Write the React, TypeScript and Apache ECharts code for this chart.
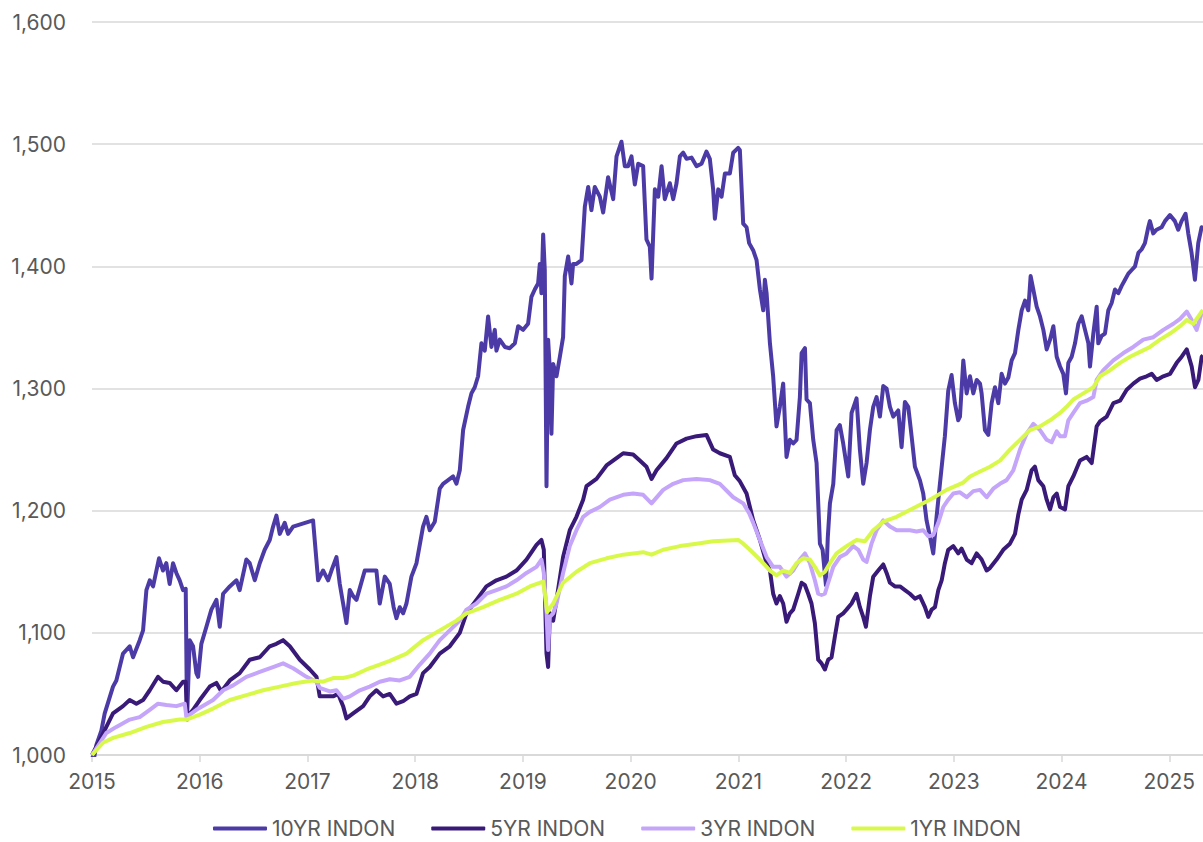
import React, { useEffect, useRef } from "react";
import * as echarts from "echarts";

// Decimal-year x values, index levels (base 1,000 at start of 2015)
const seriesNames = ["10YR INDON", "5YR INDON", "3YR INDON", "1YR INDON"];
const seriesColors = ["#4C3BA6", "#3A1A78", "#C4A5FA", "#D9F94A"];
const yearTicks = [2015, 2016, 2017, 2018, 2019, 2020, 2021, 2022, 2023, 2024, 2025];
const xMin = 2015;
const xMax = 2025.313;

const tenYr: [number, number][] = [
  [2015.0, 1000], [2015.02, 998], [2015.04, 1008], [2015.087, 1020], [2015.118, 1034], [2015.195, 1056],
  [2015.226, 1061], [2015.288, 1083], [2015.35, 1089], [2015.381, 1080], [2015.443, 1094], [2015.474, 1102],
  [2015.505, 1135], [2015.536, 1143], [2015.567, 1138], [2015.622, 1161], [2015.659, 1151], [2015.69, 1157],
  [2015.721, 1140], [2015.752, 1157], [2015.783, 1149], [2015.814, 1143], [2015.845, 1135], [2015.87, 1136],
  [2015.882, 1029], [2015.907, 1094], [2015.938, 1089], [2015.969, 1067], [2015.985, 1064], [2016.015, 1091],
  [2016.062, 1105], [2016.108, 1119], [2016.155, 1127], [2016.186, 1105], [2016.217, 1132], [2016.279, 1138],
  [2016.341, 1143], [2016.371, 1135], [2016.433, 1160], [2016.464, 1157], [2016.511, 1143], [2016.557, 1157],
  [2016.603, 1168], [2016.65, 1176], [2016.681, 1187], [2016.712, 1196], [2016.743, 1181], [2016.789, 1190],
  [2016.82, 1181], [2016.867, 1187], [2017.052, 1192], [2017.099, 1143], [2017.145, 1151], [2017.192, 1143],
  [2017.223, 1151], [2017.269, 1162], [2017.3, 1140], [2017.331, 1124], [2017.362, 1108], [2017.393, 1135],
  [2017.424, 1130], [2017.455, 1127], [2017.532, 1151], [2017.578, 1151], [2017.64, 1151], [2017.671, 1124],
  [2017.718, 1146], [2017.764, 1140], [2017.8, 1121], [2017.826, 1112], [2017.857, 1121], [2017.888, 1116],
  [2017.919, 1124], [2017.965, 1146], [2018.012, 1157], [2018.073, 1187], [2018.104, 1195], [2018.135, 1184],
  [2018.182, 1191], [2018.228, 1218], [2018.259, 1222], [2018.306, 1225], [2018.352, 1228], [2018.383, 1222],
  [2018.414, 1233], [2018.445, 1266], [2018.491, 1285], [2018.522, 1296], [2018.553, 1301], [2018.584, 1310],
  [2018.615, 1337], [2018.646, 1331], [2018.677, 1359], [2018.708, 1334], [2018.739, 1348], [2018.754, 1331],
  [2018.785, 1340], [2018.832, 1334], [2018.878, 1333], [2018.925, 1337], [2018.956, 1351], [2019.002, 1348],
  [2019.048, 1353], [2019.079, 1375], [2019.11, 1381], [2019.141, 1386], [2019.157, 1402], [2019.172, 1378],
  [2019.188, 1426], [2019.203, 1397], [2019.219, 1220], [2019.234, 1340], [2019.25, 1315], [2019.265, 1263],
  [2019.281, 1320], [2019.312, 1310], [2019.343, 1326], [2019.373, 1342], [2019.389, 1392], [2019.42, 1408],
  [2019.451, 1386], [2019.466, 1402], [2019.497, 1402], [2019.544, 1405], [2019.575, 1449], [2019.606, 1465],
  [2019.636, 1446], [2019.667, 1465], [2019.714, 1457], [2019.745, 1444], [2019.791, 1473], [2019.838, 1455],
  [2019.869, 1490], [2019.915, 1502], [2019.946, 1482], [2019.977, 1482], [2020.008, 1490], [2020.039, 1467],
  [2020.07, 1484], [2020.116, 1482], [2020.147, 1422], [2020.178, 1416], [2020.194, 1390], [2020.225, 1463],
  [2020.256, 1457], [2020.287, 1482], [2020.317, 1455], [2020.364, 1468], [2020.395, 1455], [2020.426, 1468],
  [2020.457, 1490], [2020.488, 1493], [2020.519, 1488], [2020.565, 1489], [2020.612, 1482], [2020.658, 1484],
  [2020.704, 1494], [2020.735, 1488], [2020.766, 1463], [2020.782, 1439], [2020.813, 1463], [2020.844, 1457],
  [2020.875, 1476], [2020.921, 1476], [2020.952, 1493], [2020.998, 1497], [2021.014, 1495], [2021.045, 1435],
  [2021.076, 1432], [2021.1, 1419], [2021.138, 1413], [2021.169, 1405], [2021.2, 1381], [2021.231, 1364],
  [2021.246, 1389], [2021.262, 1378], [2021.293, 1337], [2021.323, 1310], [2021.354, 1269], [2021.385, 1285],
  [2021.416, 1304], [2021.447, 1244], [2021.478, 1258], [2021.509, 1255], [2021.54, 1258], [2021.571, 1293],
  [2021.587, 1329], [2021.618, 1333], [2021.633, 1291], [2021.664, 1288], [2021.695, 1258], [2021.726, 1239],
  [2021.757, 1173], [2021.782, 1168], [2021.813, 1139], [2021.83, 1178], [2021.85, 1206], [2021.881, 1222],
  [2021.912, 1266], [2021.942, 1270], [2021.973, 1255], [2022.02, 1228], [2022.051, 1280], [2022.097, 1292],
  [2022.128, 1250], [2022.159, 1222], [2022.19, 1239], [2022.221, 1266], [2022.252, 1285], [2022.283, 1293],
  [2022.314, 1277], [2022.345, 1302], [2022.376, 1300], [2022.407, 1285], [2022.438, 1277], [2022.484, 1282],
  [2022.515, 1252], [2022.546, 1289], [2022.577, 1285], [2022.608, 1261], [2022.639, 1236], [2022.685, 1225],
  [2022.716, 1214], [2022.747, 1192], [2022.778, 1179], [2022.809, 1165], [2022.84, 1195], [2022.871, 1222],
  [2022.917, 1261], [2022.948, 1298], [2022.979, 1311], [2023.01, 1288], [2023.041, 1274], [2023.057, 1277],
  [2023.088, 1323], [2023.119, 1296], [2023.15, 1310], [2023.181, 1296], [2023.212, 1307], [2023.243, 1304],
  [2023.258, 1296], [2023.289, 1266], [2023.32, 1262], [2023.351, 1288], [2023.382, 1301], [2023.413, 1288],
  [2023.444, 1312], [2023.475, 1304], [2023.506, 1309], [2023.537, 1323], [2023.568, 1329], [2023.599, 1348],
  [2023.63, 1364], [2023.661, 1372], [2023.691, 1364], [2023.713, 1392], [2023.738, 1381], [2023.769, 1367],
  [2023.8, 1359], [2023.831, 1348], [2023.862, 1332], [2023.893, 1340], [2023.924, 1351], [2023.955, 1326],
  [2023.986, 1318], [2024.016, 1312], [2024.041, 1296], [2024.063, 1321], [2024.094, 1326], [2024.125, 1337],
  [2024.156, 1353], [2024.187, 1359], [2024.218, 1348], [2024.249, 1337], [2024.264, 1318], [2024.295, 1345],
  [2024.326, 1367], [2024.341, 1337], [2024.372, 1343], [2024.403, 1345], [2024.434, 1364], [2024.465, 1370],
  [2024.496, 1381], [2024.527, 1378], [2024.558, 1384], [2024.589, 1389], [2024.62, 1394], [2024.651, 1397],
  [2024.682, 1400], [2024.713, 1411], [2024.744, 1414], [2024.774, 1419], [2024.805, 1432], [2024.82, 1437],
  [2024.851, 1427], [2024.882, 1430], [2024.929, 1432], [2024.96, 1437], [2025.006, 1442], [2025.052, 1437],
  [2025.083, 1430], [2025.114, 1437], [2025.151, 1443], [2025.176, 1427], [2025.207, 1411], [2025.238, 1389],
  [2025.269, 1419], [2025.3, 1432], [2025.313, 1430],
];

const fiveYr: [number, number][] = [
  [2015.0, 1000], [2015.071, 1012], [2015.133, 1023], [2015.195, 1034], [2015.288, 1040], [2015.35, 1045],
  [2015.412, 1042], [2015.474, 1045], [2015.536, 1053], [2015.613, 1064], [2015.659, 1060], [2015.721, 1059],
  [2015.783, 1053], [2015.845, 1060], [2015.87, 1060], [2015.882, 1031], [2015.938, 1037], [2016.0, 1045],
  [2016.093, 1056], [2016.155, 1059], [2016.201, 1052], [2016.279, 1061], [2016.371, 1067], [2016.464, 1078],
  [2016.557, 1080], [2016.65, 1089], [2016.712, 1091], [2016.774, 1094], [2016.836, 1089], [2016.929, 1078],
  [2017.022, 1070], [2017.084, 1064], [2017.114, 1048], [2017.176, 1048], [2017.238, 1048], [2017.285, 1050],
  [2017.331, 1040], [2017.362, 1030], [2017.424, 1034], [2017.517, 1040], [2017.578, 1048], [2017.64, 1053],
  [2017.702, 1048], [2017.764, 1050], [2017.826, 1042], [2017.888, 1044], [2017.95, 1048], [2018.012, 1050],
  [2018.073, 1067], [2018.135, 1072], [2018.228, 1083], [2018.321, 1089], [2018.414, 1100], [2018.476, 1116],
  [2018.569, 1127], [2018.661, 1138], [2018.754, 1143], [2018.847, 1146], [2018.94, 1151], [2019.033, 1160],
  [2019.126, 1172], [2019.172, 1176], [2019.194, 1168], [2019.219, 1083], [2019.234, 1072], [2019.25, 1116],
  [2019.281, 1110], [2019.312, 1127], [2019.373, 1162], [2019.435, 1184], [2019.497, 1195], [2019.559, 1209],
  [2019.59, 1220], [2019.683, 1226], [2019.776, 1237], [2019.869, 1243], [2019.931, 1247], [2020.023, 1246],
  [2020.085, 1241], [2020.147, 1236], [2020.194, 1226], [2020.24, 1233], [2020.333, 1243], [2020.426, 1255],
  [2020.519, 1259], [2020.612, 1261], [2020.704, 1262], [2020.766, 1250], [2020.828, 1247], [2020.921, 1244],
  [2020.967, 1229], [2021.014, 1224], [2021.076, 1214], [2021.138, 1192], [2021.2, 1176], [2021.262, 1157],
  [2021.293, 1151], [2021.323, 1132], [2021.354, 1124], [2021.385, 1130], [2021.416, 1124], [2021.447, 1109],
  [2021.478, 1116], [2021.509, 1119], [2021.556, 1132], [2021.587, 1141], [2021.618, 1139], [2021.648, 1132],
  [2021.679, 1124], [2021.71, 1108], [2021.741, 1078], [2021.772, 1075], [2021.803, 1070], [2021.834, 1078],
  [2021.865, 1080], [2021.896, 1097], [2021.927, 1113], [2021.973, 1116], [2022.004, 1119], [2022.051, 1124],
  [2022.097, 1132], [2022.128, 1121], [2022.159, 1113], [2022.184, 1105], [2022.221, 1130], [2022.252, 1146],
  [2022.298, 1151], [2022.345, 1156], [2022.376, 1149], [2022.407, 1141], [2022.453, 1138], [2022.5, 1138],
  [2022.546, 1135], [2022.592, 1132], [2022.639, 1128], [2022.685, 1130], [2022.732, 1121], [2022.763, 1113],
  [2022.794, 1119], [2022.825, 1121], [2022.856, 1135], [2022.887, 1143], [2022.917, 1157], [2022.948, 1168],
  [2022.995, 1171], [2023.041, 1165], [2023.072, 1169], [2023.119, 1160], [2023.165, 1157], [2023.212, 1165],
  [2023.258, 1160], [2023.304, 1151], [2023.335, 1153], [2023.397, 1160], [2023.459, 1168], [2023.521, 1173],
  [2023.568, 1181], [2023.599, 1197], [2023.63, 1209], [2023.676, 1217], [2023.722, 1233], [2023.753, 1236],
  [2023.784, 1225], [2023.831, 1220], [2023.862, 1209], [2023.893, 1201], [2023.924, 1211], [2023.955, 1214],
  [2023.986, 1203], [2024.032, 1201], [2024.063, 1220], [2024.109, 1228], [2024.171, 1241], [2024.233, 1244],
  [2024.28, 1239], [2024.326, 1269], [2024.357, 1273], [2024.419, 1277], [2024.481, 1288], [2024.543, 1290],
  [2024.605, 1299], [2024.666, 1304], [2024.728, 1308], [2024.79, 1310], [2024.837, 1312], [2024.883, 1307],
  [2024.945, 1310], [2025.007, 1312], [2025.069, 1321], [2025.115, 1326], [2025.162, 1332], [2025.208, 1318],
  [2025.239, 1301], [2025.27, 1307], [2025.301, 1326], [2025.313, 1327],
];

const threeYr: [number, number][] = [
  [2015.0, 1000], [2015.133, 1018], [2015.226, 1023], [2015.35, 1029], [2015.443, 1031], [2015.536, 1037],
  [2015.613, 1042], [2015.69, 1041], [2015.783, 1040], [2015.861, 1042], [2015.876, 1031], [2015.969, 1037],
  [2016.124, 1045], [2016.217, 1053], [2016.31, 1057], [2016.433, 1064], [2016.557, 1068], [2016.681, 1072],
  [2016.774, 1075], [2016.867, 1071], [2016.991, 1064], [2017.084, 1060], [2017.114, 1055], [2017.207, 1052],
  [2017.269, 1053], [2017.331, 1046], [2017.393, 1048], [2017.486, 1053], [2017.578, 1056], [2017.671, 1060],
  [2017.764, 1062], [2017.857, 1061], [2017.95, 1064], [2018.043, 1074], [2018.135, 1083], [2018.228, 1094],
  [2018.321, 1102], [2018.414, 1110], [2018.476, 1119], [2018.569, 1124], [2018.661, 1132], [2018.754, 1135],
  [2018.847, 1138], [2018.94, 1143], [2019.033, 1149], [2019.126, 1154], [2019.172, 1160], [2019.194, 1149],
  [2019.219, 1116], [2019.234, 1086], [2019.25, 1113], [2019.281, 1116], [2019.312, 1124], [2019.373, 1149],
  [2019.435, 1171], [2019.497, 1184], [2019.559, 1195], [2019.621, 1199], [2019.714, 1203], [2019.807, 1209],
  [2019.931, 1213], [2020.023, 1214], [2020.116, 1213], [2020.194, 1206], [2020.302, 1217], [2020.395, 1222],
  [2020.488, 1225], [2020.612, 1226], [2020.735, 1225], [2020.828, 1222], [2020.952, 1211], [2021.045, 1206],
  [2021.1, 1198], [2021.138, 1190], [2021.2, 1176], [2021.262, 1162], [2021.323, 1154], [2021.385, 1154],
  [2021.447, 1146], [2021.509, 1151], [2021.571, 1160], [2021.618, 1165], [2021.664, 1157], [2021.71, 1143],
  [2021.741, 1132], [2021.772, 1131], [2021.803, 1132], [2021.834, 1141], [2021.881, 1154], [2021.942, 1162],
  [2022.004, 1165], [2022.066, 1171], [2022.113, 1168], [2022.159, 1160], [2022.19, 1158], [2022.236, 1173],
  [2022.283, 1184], [2022.345, 1192], [2022.407, 1187], [2022.469, 1184], [2022.531, 1184], [2022.592, 1184],
  [2022.654, 1183], [2022.716, 1184], [2022.763, 1179], [2022.809, 1180], [2022.856, 1190], [2022.902, 1203],
  [2022.948, 1209], [2022.995, 1214], [2023.057, 1215], [2023.119, 1211], [2023.181, 1216], [2023.243, 1217],
  [2023.305, 1211], [2023.366, 1218], [2023.428, 1222], [2023.49, 1225], [2023.552, 1233], [2023.614, 1250],
  [2023.676, 1263], [2023.738, 1271], [2023.8, 1266], [2023.862, 1258], [2023.908, 1256], [2023.955, 1265],
  [2023.986, 1261], [2024.032, 1261], [2024.063, 1274], [2024.109, 1280], [2024.171, 1288], [2024.233, 1290],
  [2024.295, 1293], [2024.326, 1307], [2024.388, 1315], [2024.481, 1323], [2024.574, 1329], [2024.666, 1334],
  [2024.759, 1340], [2024.852, 1342], [2024.945, 1348], [2025.038, 1353], [2025.1, 1357], [2025.162, 1363],
  [2025.208, 1356], [2025.254, 1348], [2025.301, 1362], [2025.313, 1360],
];

const oneYr: [number, number][] = [
  [2015.0, 1000], [2015.102, 1010], [2015.195, 1014], [2015.35, 1018], [2015.505, 1023], [2015.659, 1027],
  [2015.814, 1029], [2015.876, 1029], [2016.0, 1033], [2016.124, 1038], [2016.279, 1045], [2016.433, 1049],
  [2016.588, 1053], [2016.743, 1056], [2016.898, 1059], [2017.052, 1061], [2017.145, 1060], [2017.238, 1063],
  [2017.331, 1063], [2017.424, 1065], [2017.548, 1070], [2017.671, 1074], [2017.764, 1077], [2017.919, 1083],
  [2018.073, 1094], [2018.228, 1102], [2018.383, 1110], [2018.476, 1116], [2018.63, 1121], [2018.785, 1127],
  [2018.94, 1132], [2019.064, 1138], [2019.188, 1142], [2019.212, 1127], [2019.225, 1117], [2019.281, 1124],
  [2019.373, 1141], [2019.497, 1150], [2019.621, 1157], [2019.776, 1161], [2019.931, 1164], [2020.023, 1165],
  [2020.116, 1166], [2020.194, 1164], [2020.302, 1168], [2020.457, 1171], [2020.612, 1173], [2020.766, 1175],
  [2020.998, 1176], [2021.045, 1173], [2021.107, 1168], [2021.2, 1160], [2021.293, 1151], [2021.354, 1147],
  [2021.416, 1151], [2021.478, 1149], [2021.54, 1157], [2021.602, 1161], [2021.664, 1160], [2021.71, 1154],
  [2021.757, 1147], [2021.803, 1150], [2021.85, 1157], [2021.911, 1165], [2022.004, 1171], [2022.097, 1176],
  [2022.175, 1175], [2022.252, 1184], [2022.345, 1191], [2022.469, 1195], [2022.623, 1202], [2022.778, 1209],
  [2022.933, 1217], [2023.088, 1223], [2023.15, 1228], [2023.243, 1232], [2023.336, 1236], [2023.428, 1241],
  [2023.521, 1250], [2023.614, 1258], [2023.707, 1266], [2023.8, 1269], [2023.893, 1274], [2023.986, 1280],
  [2024.047, 1285], [2024.109, 1291], [2024.202, 1296], [2024.295, 1301], [2024.357, 1310], [2024.45, 1315],
  [2024.543, 1321], [2024.635, 1326], [2024.728, 1330], [2024.821, 1334], [2024.914, 1340], [2025.007, 1345],
  [2025.1, 1351], [2025.162, 1356], [2025.223, 1353], [2025.301, 1363], [2025.313, 1364],
];

const seriesData = [tenYr, fiveYr, threeYr, oneYr];

const FONT = "Inter, 'Noto Sans', sans-serif";
const TEXT_COLOR = "#595959";
const GRID_COLOR = "#d9d9d9";

export default function App() {
  const ref = useRef<HTMLDivElement>(null);

  useEffect(() => {
    if (!ref.current) return;
    const chart = echarts.init(ref.current, null, { renderer: "svg" });
    chart.setOption({
      animation: false,
      backgroundColor: "#ffffff",
      textStyle: { fontFamily: FONT },
      grid: { left: 92, right: 0, top: 22, bottom: 87, containLabel: false },
      legend: {
        data: seriesNames,
        left: 213,
        top: 818,
        icon: "roundRect",
        itemWidth: 54,
        itemHeight: 4,
        itemGap: 36,
        padding: 0,
        textStyle: { color: TEXT_COLOR, fontSize: 21, lineHeight: 21, fontFamily: FONT },
      },
      xAxis: {
        type: "value",
        min: xMin,
        max: xMax,
        interval: 1,
        splitLine: { show: false },
        axisLine: { show: true, lineStyle: { color: GRID_COLOR, width: 2 } },
        axisTick: { show: true, length: 7, lineStyle: { color: GRID_COLOR, width: 1.5 } },
        axisLabel: {
          color: TEXT_COLOR,
          fontSize: 21,
          fontFamily: FONT,
          margin: 16,
          showMaxLabel: false,
          formatter: (v: number) => (yearTicks.includes(Math.round(v * 1000) / 1000) ? String(v) : ""),
        },
      },
      yAxis: {
        type: "value",
        min: 1000,
        max: 1600,
        interval: 100,
        axisLine: { show: false },
        axisTick: { show: false },
        splitLine: { show: true, lineStyle: { color: GRID_COLOR, width: 1.5 } },
        axisLabel: {
          color: TEXT_COLOR,
          fontSize: 21,
          fontFamily: FONT,
          margin: 26,
          formatter: (v: number) => v.toLocaleString("en-US"),
        },
      },
      series: seriesNames.map((name, i) => ({
        name,
        type: "line",
        data: seriesData[i],
        showSymbol: false,
        symbol: "none",
        color: seriesColors[i],
        lineStyle: { color: seriesColors[i], width: 4, join: "round" },
        z: 2 + i,
      })),
    });
    return () => chart.dispose();
  }, []);

  return (
    <div
      ref={ref}
      style={{ position: "absolute", left: 0, top: 0, width: 1203, height: 842 }}
    />
  );
}
